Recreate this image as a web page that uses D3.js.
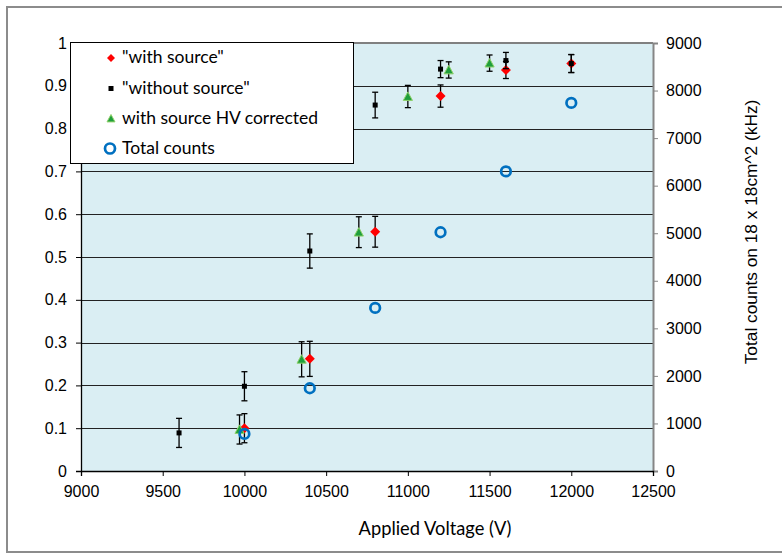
<!DOCTYPE html>
<html>
<head>
<meta charset="utf-8">
<script src="https://cdn.jsdelivr.net/npm/d3@7"></script>
<style>
    body { margin: 0; background: #fff; }
    svg { display: block; }
</style>
</head>
<body>
<svg id="chart" width="782" height="554"></svg>
<script>
// --- data ---
// "with source"
const withSrcV = [10000, 10400, 10800, 11200, 11600, 12000];
const withSrcEff = [0.100, 0.262, 0.559, 0.876, 0.937, 0.952];
const withSrcErr = [0.034, 0.041, 0.036, 0.026, 0.020, 0.021];
// "without source"
const noSrcV = [9600, 10000, 10400, 10800, 11200, 11600, 12000];
const noSrcEff = [0.089, 0.198, 0.514, 0.855, 0.939, 0.959, 0.952];
const noSrcErr = [0.034, 0.034, 0.040, 0.030, 0.020, 0.019, 0.021];
// with source HV corrected
const hvV = [9970, 10350, 10700, 11000, 11250, 11500];
const hvEff = [0.097, 0.261, 0.558, 0.875, 0.937, 0.953];
const hvErr = [0.034, 0.041, 0.036, 0.026, 0.019, 0.019];
// Total counts (right axis, kHz)
const countV = [10000, 10400, 10800, 11200, 11600, 12000];
const counts = [780, 1740, 3430, 5020, 6300, 7740];

const xTicks = [9000, 9500, 10000, 10500, 11000, 11500, 12000, 12500];
const yTicks = [0, 0.1, 0.2, 0.3, 0.4, 0.5, 0.6, 0.7, 0.8, 0.9, 1];
const y2Ticks = [0, 1000, 2000, 3000, 4000, 5000, 6000, 7000, 8000, 9000];
const legendLabels = ['"with source"', '"without source"', 'with source HV corrected', 'Total counts'];

const svg = d3.select("#chart");
const numFont = "'Liberation Sans', Arial, sans-serif";
const txtFont = "Lato, 'Open Sans', sans-serif";

// plot area (hard-coded to match the picture)
const plotL = 81, plotR = 653, plotT = 43, plotB = 471;

const x = d3.scaleLinear().domain([9000, 12500]).range([plotL, plotR]);
const y = d3.scaleLinear().domain([0, 1]).range([plotB, plotT]);
const y2 = d3.scaleLinear().domain([0, 9000]).range([plotB, plotT]);

// outer frame
svg.append("rect")
    .attr("x", 7).attr("y", 7)
    .attr("width", 800).attr("height", 545)
    .attr("fill", "none")
    .attr("stroke", "#8c8c8c")
    .attr("stroke-width", 2);

// plot background
svg.append("rect")
    .attr("x", plotL).attr("y", plotT)
    .attr("width", plotR - plotL).attr("height", plotB - plotT)
    .attr("fill", "#daeef3");

// horizontal gridlines
svg.append("g")
    .selectAll("line")
    .data(yTicks.filter(d => d > 0 && d < 1))
    .join("line")
    .attr("x1", plotL).attr("x2", plotR)
    .attr("y1", d => Math.round(y(d)) + 0.5)
    .attr("y2", d => Math.round(y(d)) + 0.5)
    .attr("stroke", "#222")
    .attr("stroke-width", 1.2);

// top border of plot area
svg.append("line")
    .attr("x1", plotL).attr("x2", plotR)
    .attr("y1", plotT).attr("y2", plotT)
    .attr("stroke", "#808080")
    .attr("stroke-width", 2);

// left axis
const gL = svg.append("g")
    .attr("transform", `translate(${plotL},0)`)
    .call(d3.axisLeft(y).tickValues(yTicks).tickSize(5).tickPadding(9)
        .tickFormat(d => (d === 0 || d === 1) ? String(d) : d.toFixed(1)));
gL.select(".domain").attr("stroke", "#000").attr("stroke-width", 1.3);

// right axis
const gR = svg.append("g")
    .attr("transform", `translate(${plotR},0)`)
    .call(d3.axisRight(y2).tickValues(y2Ticks).tickSize(5).tickPadding(8)
        .tickFormat(d3.format("d")));
gR.select(".domain").attr("stroke", "#868686").attr("stroke-width", 2);
gR.selectAll(".tick line").attr("stroke", "#868686");

// bottom axis
const gB = svg.append("g")
    .attr("transform", `translate(0,${plotB})`)
    .call(d3.axisBottom(x).tickValues(xTicks).tickSize(5).tickPadding(10)
        .tickFormat(d3.format("d")));
gB.select(".domain").attr("stroke", "#000").attr("stroke-width", 1.3);

[gL, gR, gB].forEach(g => {
    g.selectAll("text")
        .attr("font-family", numFont)
        .attr("font-size", 16)
        .attr("fill", "#000");
});

// axis titles
svg.append("text")
    .attr("x", 435).attr("y", 535)
    .attr("text-anchor", "middle")
    .attr("font-family", txtFont)
    .attr("font-size", 18.3)
    .text("Applied Voltage (V)");

svg.append("text")
    .attr("transform", "translate(757,232) rotate(-90)")
    .attr("text-anchor", "middle")
    .attr("font-family", numFont)
    .attr("font-size", 17.3)
    .text("Total counts on 18 x 18cm^2 (kHz)");

// --- series ---
function errorBars(vs, vals, errs) {
    const g = svg.append("g").attr("stroke", "#000").attr("stroke-width", 1.3);
    vs.forEach((v, i) => {
        const cx = x(v), y1 = y(vals[i] + errs[i]), y0 = y(vals[i] - errs[i]);
        g.append("line").attr("x1", cx).attr("x2", cx).attr("y1", y1).attr("y2", y0);
        g.append("line").attr("x1", cx - 3).attr("x2", cx + 3).attr("y1", y1).attr("y2", y1);
        g.append("line").attr("x1", cx - 3).attr("x2", cx + 3).attr("y1", y0).attr("y2", y0);
    });
}

const diamond = s => `M0,${-s}L${s},0L0,${s}L${-s},0Z`;
const triangle = s => `M0,${-s}L${s},${s * 0.85}L${-s},${s * 0.85}Z`;

// "with source"
errorBars(withSrcV, withSrcEff, withSrcErr);
svg.append("g").selectAll("path")
    .data(withSrcV)
    .join("path")
    .attr("transform", (d, i) => `translate(${x(d)},${y(withSrcEff[i])})`)
    .attr("d", diamond(5))
    .attr("fill", "#ff0000");

// "without source"
errorBars(noSrcV, noSrcEff, noSrcErr);
svg.append("g").selectAll("rect")
    .data(noSrcV)
    .join("rect")
    .attr("x", d => x(d) - 2.5)
    .attr("y", (d, i) => y(noSrcEff[i]) - 2.5)
    .attr("width", 5).attr("height", 5)
    .attr("fill", "#000");

// with source HV corrected
errorBars(hvV, hvEff, hvErr);
svg.append("g").selectAll("path")
    .data(hvV)
    .join("path")
    .attr("transform", (d, i) => `translate(${x(d)},${y(hvEff[i])})`)
    .attr("d", triangle(4.6))
    .attr("fill", "#1f9e3c")
    .attr("stroke", "#8fd16a")
    .attr("stroke-width", 1);

// Total counts
svg.append("g").selectAll("circle")
    .data(countV)
    .join("circle")
    .attr("cx", d => x(d))
    .attr("cy", (d, i) => y2(counts[i]))
    .attr("r", 4.8)
    .attr("fill", "none")
    .attr("stroke", "#0070c0")
    .attr("stroke-width", 2.7);

// --- legend ---
const legend = svg.append("g");
legend.append("rect")
    .attr("x", 70.5).attr("y", 42.5)
    .attr("width", 283).attr("height", 121)
    .attr("fill", "#fff")
    .attr("stroke", "#000")
    .attr("stroke-width", 1);

const rowY = [58, 88.5, 118.5, 148.5];
const items = legend.selectAll("g.item")
    .data(legendLabels)
    .join("g")
    .attr("class", "item")
    .attr("transform", (d, i) => `translate(111,${rowY[i]})`);

items.each(function (d, i) {
    const g = d3.select(this);
    if (i === 0) g.append("path").attr("d", diamond(4)).attr("fill", "#ff0000");
    if (i === 1) g.append("rect").attr("x", -2.5).attr("y", -2.5).attr("width", 5).attr("height", 5).attr("fill", "#000");
    if (i === 2) g.append("path").attr("d", triangle(4)).attr("fill", "#1f9e3c").attr("stroke", "#8fd16a").attr("stroke-width", 1);
    if (i === 3) g.append("circle").attr("cx", -1).attr("r", 5).attr("fill", "none").attr("stroke", "#0070c0").attr("stroke-width", 2.7);
});

items.append("text")
    .attr("x", 11)
    .attr("y", 5)
    .attr("font-family", txtFont)
    .attr("font-size", 17.5)
    .text(d => d);
</script>
</body>
</html>
